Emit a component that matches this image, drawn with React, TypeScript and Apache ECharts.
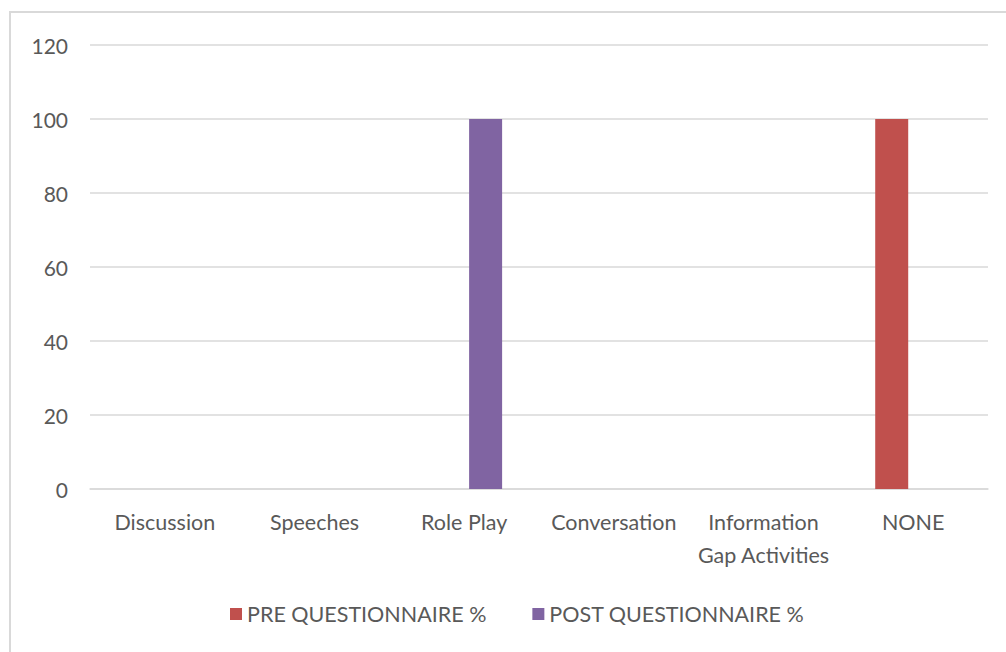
import React, { useEffect, useRef } from "react";
import * as echarts from "echarts";

const categories = ["Discussion", "Speeches", "Role Play", "Conversation", "Information\nGap Activities", "NONE"];
const preValues = [0, 0, 0, 0, 0, 100];
const postValues = [0, 0, 100, 0, 0, 0];
const seriesNames = ["PRE QUESTIONNAIRE %", "POST QUESTIONNAIRE %"];
const yTicks = { min: 0, max: 120, interval: 20 };

export default function App() {
  const ref = useRef<HTMLDivElement>(null);
  useEffect(() => {
    if (!ref.current) return;
    const chart = echarts.init(ref.current, undefined, { renderer: "svg" });
    const font = "Lato, 'Open Sans', sans-serif";
    chart.setOption({
      animation: false,
      backgroundColor: "#ffffff",
      textStyle: { fontFamily: font },
      graphic: [
        {
          type: "rect",
          shape: { x: 10, y: 12, width: 1010, height: 660 },
          style: { fill: "none", stroke: "#d9d9d9", lineWidth: 2 },
          silent: true,
        },
      ],
      grid: { left: 90, right: 18, top: 45, bottom: 163, containLabel: false },
      legend: {
        data: seriesNames,
        bottom: 22,
        left: 225,
        itemWidth: 12,
        itemHeight: 12,
        itemGap: 46,
        icon: "rect",
        textStyle: { fontSize: 21.5, color: "#595959", fontFamily: font },
      },
      xAxis: {
        type: "category",
        data: categories,
        axisLine: { show: true, lineStyle: { color: "#d9d9d9", width: 1.5 } },
        axisTick: { show: false },
        axisLabel: {
          interval: 0,
          margin: 16,
          fontSize: 21.5,
          color: "#595959",
          lineHeight: 33,
          fontFamily: font,
        },
      },
      yAxis: {
        type: "value",
        min: yTicks.min,
        max: yTicks.max,
        interval: yTicks.interval,
        axisLine: { show: false },
        axisTick: { show: false },
        splitLine: { lineStyle: { color: "#d9d9d9", width: 1.5 } },
        axisLabel: { fontSize: 21, color: "#595959", margin: 22, fontFamily: font },
      },
      series: [
        {
          name: seriesNames[0],
          type: "bar",
          data: preValues,
          barWidth: 33,
          barGap: "30%",
          itemStyle: { color: "#C0504D" },
        },
        {
          name: seriesNames[1],
          type: "bar",
          data: postValues,
          barWidth: 33,
          barGap: "30%",
          itemStyle: { color: "#8064A2" },
        },
      ],
    });
    return () => chart.dispose();
  }, []);
  return (
    <div
      ref={ref}
      style={{ position: "fixed", left: 0, top: 0, width: 1006, height: 652 }}
    />
  );
}
